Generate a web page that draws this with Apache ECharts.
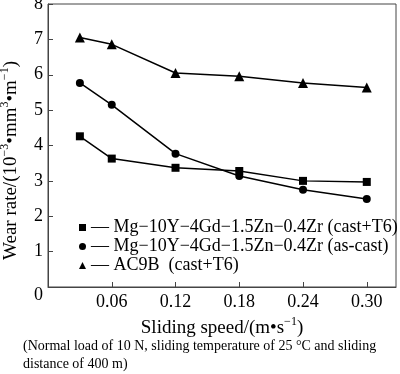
<!DOCTYPE html>
<html><head><meta charset="utf-8">
<script src="https://cdn.jsdelivr.net/npm/echarts@6/dist/echarts.min.js"></script>
<style>html,body{margin:0;padding:0;background:#fff}#c{width:400px;height:374px}</style>
</head><body><div id="c"></div>
<script>
const speeds = [0.03, 0.06, 0.12, 0.18, 0.24, 0.30];
const xTicks = [0, 0.06, 0.12, 0.18, 0.24, 0.30];
const yTicks = [0, 1, 2, 3, 4, 5, 6, 7, 8];
const seriesNames = ['Mg\u221210Y\u22124Gd\u22121.5Zn\u22120.4Zr (cast+T6)', 'Mg\u221210Y\u22124Gd\u22121.5Zn\u22120.4Zr (as-cast)', 'AC9B  (cast+T6)'];
const castT6 = [4.26, 3.63, 3.37, 3.28, 3.00, 2.97];
const asCast = [5.77, 5.15, 3.77, 3.14, 2.75, 2.49];
const ac9b = [7.05, 6.86, 6.05, 5.96, 5.77, 5.64];
const symbols = ['rect', 'circle', 'triangle'];
const values = [castT6, asCast, ac9b];

const font = 'Liberation Serif, Times New Roman, serif';
const axisColor = '#444';
const nameRich = {
  n: { fontFamily: font, fontSize: 19, color: '#000', lineHeight: 22, verticalAlign: 'bottom' },
  s: { fontFamily: font, fontSize: 12, color: '#000', lineHeight: 22, verticalAlign: 'top' }
};
const chart = echarts.init(document.getElementById('c'));
chart.setOption({
  animation: false,
  backgroundColor: '#fff',
  textStyle: { fontFamily: font, color: '#000' },
  grid: { left: 48, right: 4, top: 4, bottom: 87, show: true, borderColor: axisColor, borderWidth: 1,
    containLabel: false, outerBoundsMode: 'none' },
  xAxis: {
    type: 'value', min: 0, max: 0.3275, interval: 0.06,
    name: '{n|Sliding speed/(m\u2022s}{s|\u22121}{n|)}', nameLocation: 'middle', nameGap: 28,
    nameTextStyle: { fontFamily: font, fontSize: 19, color: '#000', rich: nameRich },
    axisLine: { lineStyle: { color: axisColor, width: 1 } },
    axisTick: { inside: true, length: 5, lineStyle: { color: axisColor } },
    splitLine: { show: false },
    axisLabel: { fontFamily: font, fontSize: 18, color: '#000', margin: 6, showMaxLabel: false,
      formatter: v => (v === 0 ? '' : v.toFixed(2)) }
  },
  yAxis: {
    type: 'value', min: 0, max: 8, interval: 1,
    name: '{n|Wear rate/(10}{s|\u22123}{n|\u2022mm}{s|3}{n|\u2022m}{s|\u22121}{n|)}', nameLocation: 'middle', nameGap: 27, nameRotate: 90,
    nameTextStyle: { fontFamily: font, fontSize: 19, color: '#000', rich: nameRich, padding: [0, 30, 0, 0] },
    axisLine: { lineStyle: { color: axisColor, width: 1 } },
    axisTick: { inside: true, length: 5, lineStyle: { color: axisColor } },
    splitLine: { show: false },
    axisLabel: { fontFamily: font, fontSize: 18, color: '#000', margin: 5,
      formatter: v => (v === 0 ? '{o|0}' : String(v)),
      rich: { o: { fontFamily: font, fontSize: 18, color: '#000', padding: [16, 0, 0, 0] } } }
  },
  legend: {
    orient: 'vertical', left: 74, top: 213, itemGap: 0, itemWidth: 7, itemHeight: 7,
    data: seriesNames.map((n, i) => ({ name: n, icon: symbols[i] })),
    formatter: n => '\u2014 ' + n,
    textStyle: { fontFamily: font, fontSize: 18, color: '#000', lineHeight: 19, padding: [0, 0, 0, 0] }
  },
  title: {
    text: '(Normal load of 10 N, sliding temperature of 25 \u00B0C and sliding\ndistance of 400 m)',
    left: 18, top: 332,
    textStyle: { fontFamily: font, fontSize: 14, fontWeight: 'normal', color: '#000', lineHeight: 18 }
  },
  series: values.map((d, i) => ({
    name: seriesNames[i], type: 'line',
    data: speeds.map((s, j) => [s, d[j]]),
    symbol: symbols[i], symbolSize: i === 2 ? 10 : 8,
    lineStyle: { color: '#000', width: 1.5 },
    itemStyle: { color: '#000' }
  }))
});
</script></body></html>
